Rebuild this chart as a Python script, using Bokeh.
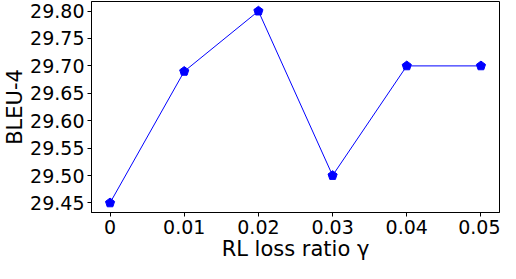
from bokeh.plotting import figure
from bokeh.models import FixedTicker, Range1d
from bokeh.embed import file_html
from bokeh.resources import INLINE

ratios = [0, 0.01, 0.02, 0.03, 0.04, 0.05]
ratio_labels = ["0", "0.01", "0.02", "0.03", "0.04", "0.05"]
bleu = [29.45, 29.69, 29.80, 29.50, 29.70, 29.70]
y_ticks = [29.45, 29.50, 29.55, 29.60, 29.65, 29.70, 29.75, 29.80]

p = figure(width=500, height=263, output_backend="svg", toolbar_location=None,
           x_range=Range1d(-0.0025, 0.0525), y_range=Range1d(29.4325, 29.8175),
           min_border_left=0, min_border_right=1, min_border_top=1, min_border_bottom=0)
p.line(ratios, bleu, line_color="#0000ff", line_width=1)
p.ngon(x=ratios, y=bleu, radius=4.8, radius_units="screen", n=5,
       fill_color="#0000ff", line_color="#0000ff")

p.xgrid.visible = False
p.ygrid.visible = False
p.outline_line_color = "black"
p.outline_line_width = 1

p.xaxis.ticker = FixedTicker(ticks=ratios)
p.xaxis.major_label_overrides = {r: l for r, l in zip(ratios, ratio_labels)}
p.yaxis.ticker = FixedTicker(ticks=y_ticks)
p.yaxis.major_label_overrides = {t: f"{t:.2f}" for t in y_ticks}

for ax in (p.xaxis[0], p.yaxis[0]):
    ax.major_label_text_font = "DejaVu Sans"
    ax.major_label_text_font_size = "19px"
    ax.major_label_text_color = "black"
    ax.axis_label_text_font = "DejaVu Sans"
    ax.axis_label_text_font_size = "21px"
    ax.axis_label_text_font_style = "normal"
    ax.axis_label_text_color = "black"
    ax.major_tick_in = 0
    ax.major_tick_out = 4
    ax.minor_tick_in = 0
    ax.minor_tick_out = 0
    ax.axis_line_color = "black"
    ax.major_tick_line_color = "black"

p.xaxis.axis_label = "RL loss ratio γ"
p.yaxis.axis_label = "BLEU-4"
p.xaxis.major_label_standoff = 3
p.yaxis.major_label_standoff = 3
p.xaxis.axis_label_standoff = 0
p.yaxis.axis_label_standoff = 0

open("out.html", "w").write(file_html(p, INLINE))
